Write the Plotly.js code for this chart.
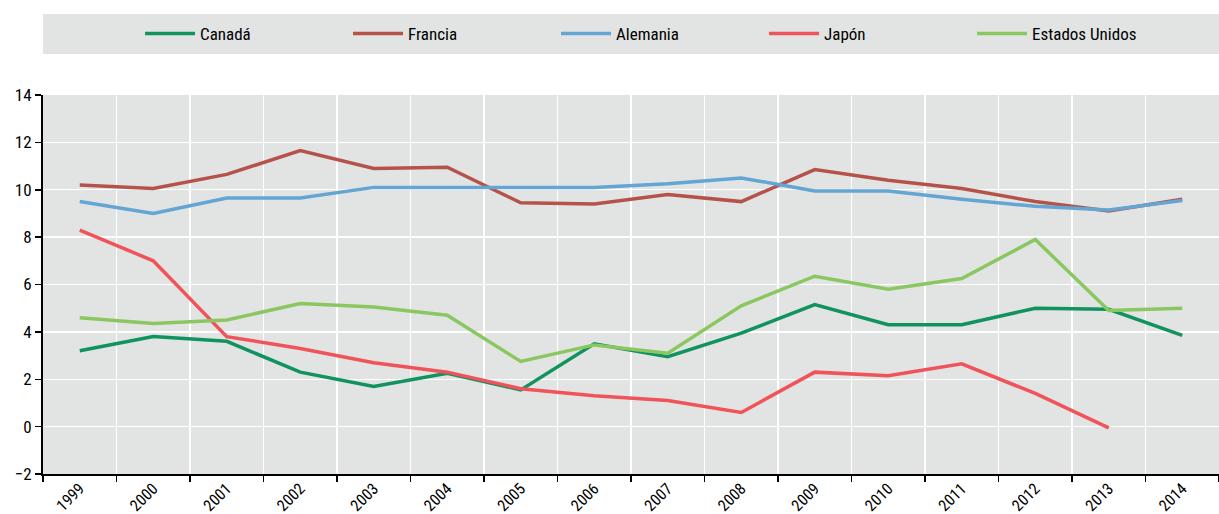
<!DOCTYPE html>
<html>
<head>
<meta charset="utf-8">
<script src="https://cdn.plot.ly/plotly-3.0.1.min.js"></script>
<style>html,body{margin:0;padding:0;background:#fff;}#chart{width:1219px;height:514px;}</style>
</head>
<body>
<div id="chart"></div>
<script>
const years = ["1999","2000","2001","2002","2003","2004","2005","2006","2007","2008","2009","2010","2011","2012","2013","2014"];
const canada = [3.2,3.8,3.6,2.3,1.7,2.25,1.55,3.5,2.95,3.95,5.15,4.3,4.3,5.0,4.95,3.85];
const francia = [10.2,10.05,10.65,11.65,10.9,10.95,9.45,9.4,9.8,9.5,10.85,10.4,10.05,9.5,9.1,9.6];
const alemania = [9.5,9.0,9.65,9.65,10.1,10.1,10.1,10.1,10.25,10.5,9.95,9.95,9.6,9.3,9.15,9.55];
const japon = [8.3,7.0,3.8,3.3,2.7,2.3,1.6,1.3,1.1,0.6,2.3,2.15,2.65,1.4,-0.05,null];
const eeuu = [4.6,4.35,4.5,5.2,5.05,4.7,2.75,3.45,3.1,5.1,6.35,5.8,6.25,7.9,4.9,5.0];

const names = ["Canadá","Francia","Alemania","Japón","Estados Unidos"];
const colors = ["#11935f","#b5534a","#63a5d3","#f0535a","#8ac761"];
const series = [canada, francia, alemania, japon, eeuu];

const FONT = "'Liberation Sans Narrow', 'Roboto Condensed', 'Arial Narrow', 'Liberation Sans', sans-serif";

const traces = series.map((s, i) => ({
  x: years, y: s, type: 'scatter', mode: 'lines', name: names[i],
  line: {color: colors[i], width: 3.5}, connectgaps: false
}));

const layout = {
  width: 1219, height: 514,
  margin: {l: 43, r: 0, t: 95, b: 40, pad: 0},
  paper_bgcolor: '#ffffff',
  plot_bgcolor: '#e2e4e3',
  font: {family: FONT, size: 15, color: '#000'},
  showlegend: true,
  legend: {
    orientation: 'h', x: 0.0825, xanchor: 'left', y: 1.161, yanchor: 'middle',
    bgcolor: 'rgba(0,0,0,0)', font: {family: FONT, size: 17, color: '#000'},
    entrywidth: 143, entrywidthmode: 'pixels', itemwidth: 50
  },
  shapes: [{
    type: 'rect', xref: 'paper', yref: 'paper', x0: 0, x1: 1, y0: 1.108, y1: 1.2137,
    fillcolor: '#e2e4e3', line: {width: 0}, layer: 'below'
  }],
  xaxis: {
    type: 'category', range: [-0.5, 15.5], tickson: 'boundaries',
    showgrid: true, gridcolor: '#ffffff', gridwidth: 1.3,
    ticks: 'outside', ticklen: 6, tickcolor: '#000', tickwidth: 1.5,
    showline: true, linecolor: '#000', linewidth: 2,
    tickangle: -45, ticklabelstandoff: -3,
    tickfont: {family: FONT, size: 16, color: '#000'},
    automargin: false, zeroline: false, fixedrange: true
  },
  yaxis: {
    range: [-2, 14], dtick: 2, tick0: 0,
    showgrid: true, gridcolor: '#ffffff', gridwidth: 1.3,
    ticks: 'outside', ticklen: 6, tickcolor: '#000', tickwidth: 1.5,
    showline: true, linecolor: '#000', linewidth: 2,
    tickfont: {family: FONT, size: 17, color: '#000'},
    zeroline: false, automargin: false, fixedrange: true
  }
};

Plotly.newPlot('chart', traces, layout, {displayModeBar: false, staticPlot: true});
</script>
</body>
</html>
